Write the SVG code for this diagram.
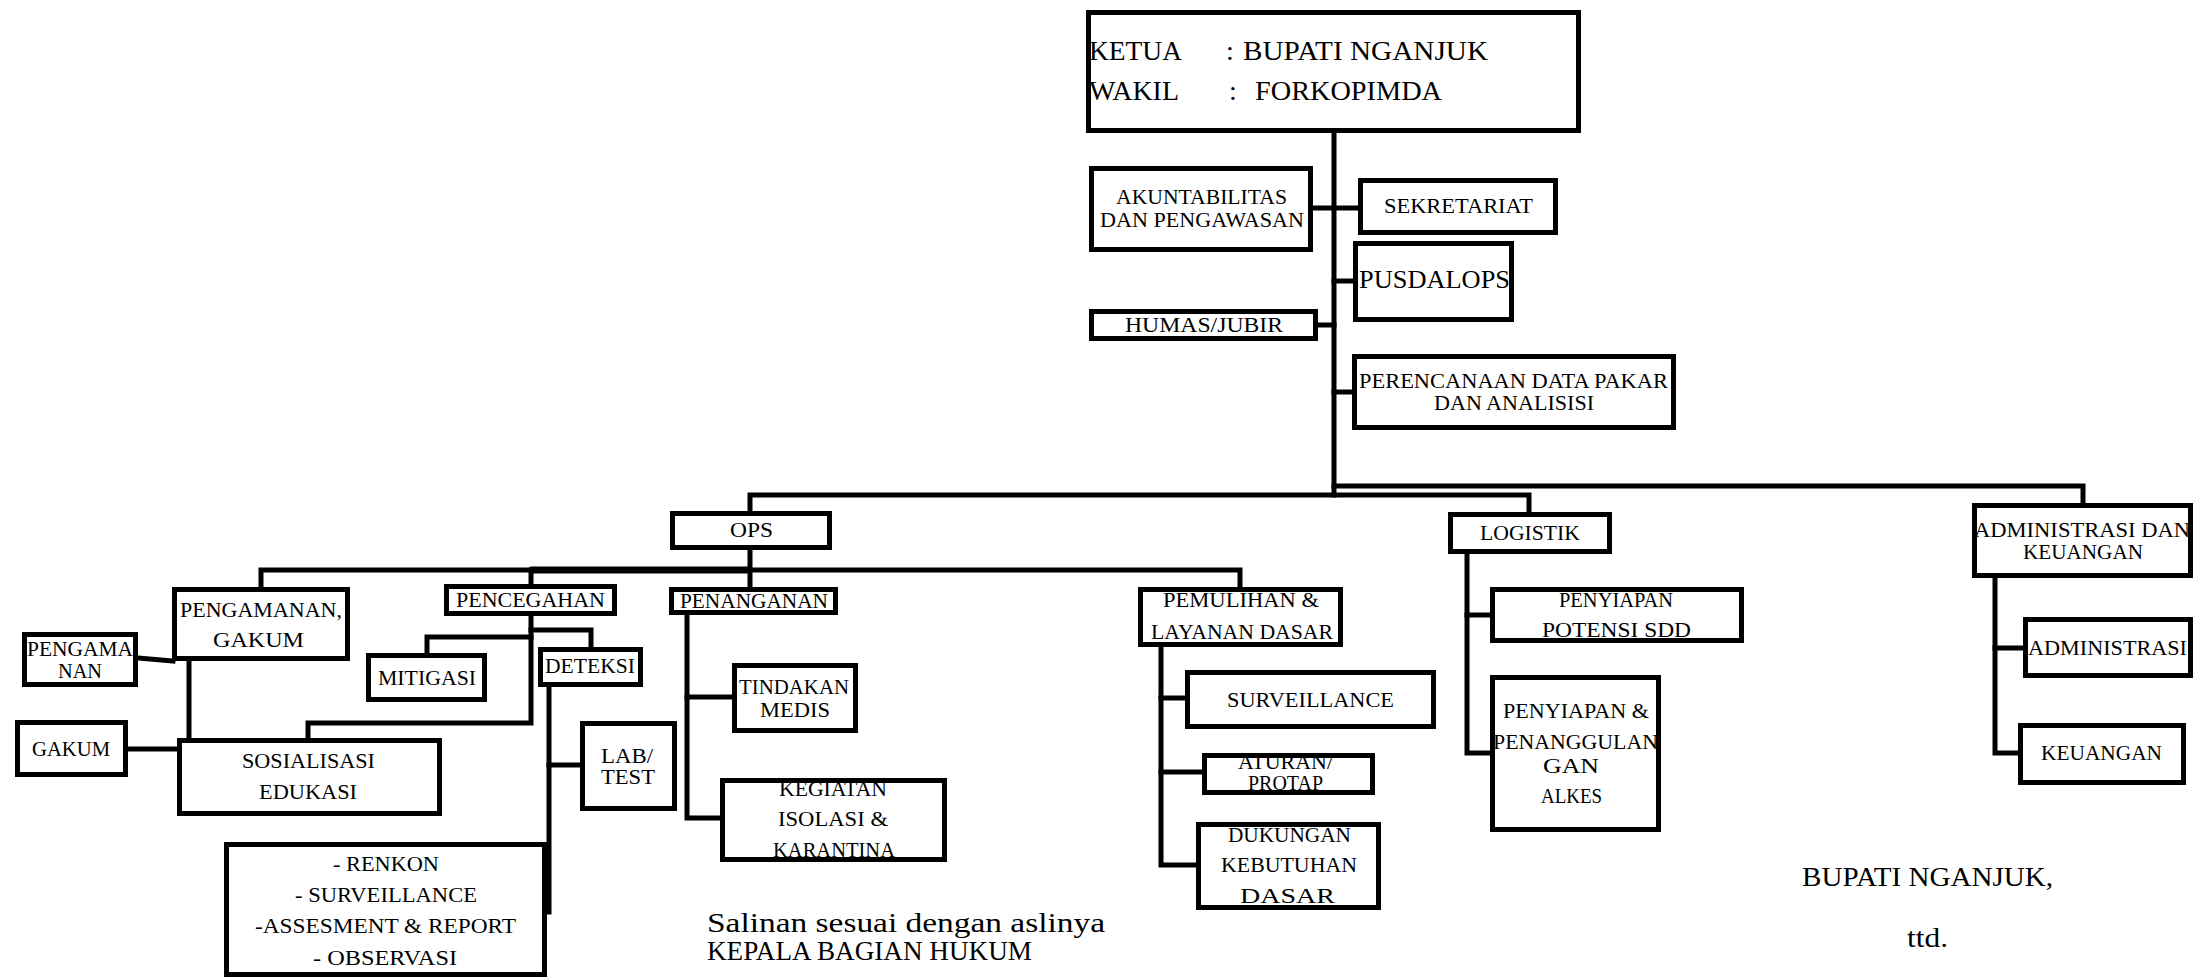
<svg xmlns="http://www.w3.org/2000/svg" width="2203" height="978" viewBox="0 0 2203 978" font-family="Liberation Serif, serif">
<style>
text{font-size:22px;fill:#000}
.b{fill:none;stroke:#000;stroke-width:5}
.c{fill:none;stroke:#000;stroke-width:5;stroke-linecap:square;stroke-linejoin:miter}
</style>
<rect x="0" y="0" width="2203" height="978" fill="#fff"/>
<g id="connectors">
<path class="c" d="M1334 133V495"/>
<path class="c" d="M1313 208H1358"/>
<path class="c" d="M1334 281H1353"/>
<path class="c" d="M1318 325H1334"/>
<path class="c" d="M1334 392H1352"/>
<path class="c" d="M1334 486H2083V503"/>
<path class="c" d="M750 511V495H1529V512"/>
<path class="c" d="M750 550V587"/>
<path class="c" d="M261 587V570H1240V587"/>
<path d="M530 570H750" stroke="#000" stroke-width="7" fill="none"/>
<path class="c" d="M531 570V584"/>
<path class="c" d="M138 658L173 661"/>
<path class="c" d="M189 661V738"/>
<path class="c" d="M128 749H177"/>
<path class="c" d="M531 616V723H308V738"/>
<path class="c" d="M531 637H427V653"/>
<path class="c" d="M531 630H591V647"/>
<path class="c" d="M549 687V912"/>
<path class="c" d="M549 765H580"/>
<path class="c" d="M687 615V818H720"/>
<path class="c" d="M687 697H732"/>
<path class="c" d="M1161 647V865H1196"/>
<path class="c" d="M1161 698H1185"/>
<path class="c" d="M1161 772H1202"/>
<path class="c" d="M1467 554V753H1490"/>
<path class="c" d="M1467 615H1490"/>
<path class="c" d="M1995 578V753H2018"/>
<path class="c" d="M1995 648H2023"/>
</g>
<g id="ketua">
<text style="font-size:28px" x="1089" y="60" textLength="93" lengthAdjust="spacingAndGlyphs">KETUA</text>
<text style="font-size:28px" x="1226" y="60">:</text>
<text style="font-size:28px" x="1243" y="60" textLength="245" lengthAdjust="spacingAndGlyphs">BUPATI NGANJUK</text>
<text style="font-size:28px" x="1089" y="100" textLength="90" lengthAdjust="spacingAndGlyphs">WAKIL</text>
<text style="font-size:28px" x="1229" y="100">:</text>
<text style="font-size:28px" x="1255" y="100" textLength="187" lengthAdjust="spacingAndGlyphs">FORKOPIMDA</text>
<rect class="b" x="1088.5" y="12.5" width="490" height="118"/>
</g>
<g id="akuntabilitas">
<text style="font-size:21px" x="1116" y="204" textLength="171" lengthAdjust="spacingAndGlyphs">AKUNTABILITAS</text>
<text style="font-size:21px" x="1100" y="227" textLength="204" lengthAdjust="spacingAndGlyphs">DAN PENGAWASAN</text>
<rect class="b" x="1091.5" y="168.5" width="219" height="81"/>
</g>
<g id="sekretariat">
<text x="1384" y="213" textLength="149" lengthAdjust="spacingAndGlyphs">SEKRETARIAT</text>
<rect class="b" x="1360.5" y="180.5" width="195" height="52"/>
</g>
<g id="pusdalops">
<text style="font-size:26px" x="1359" y="288" textLength="151" lengthAdjust="spacingAndGlyphs">PUSDALOPS</text>
<rect class="b" x="1355.5" y="243.5" width="156" height="76"/>
</g>
<g id="humas">
<text style="font-size:21px" x="1125" y="332" textLength="158" lengthAdjust="spacingAndGlyphs">HUMAS/JUBIR</text>
<rect class="b" x="1091.5" y="311.5" width="224" height="27"/>
</g>
<g id="perencanaan">
<text style="font-size:21px" x="1359" y="388" textLength="309" lengthAdjust="spacingAndGlyphs">PERENCANAAN DATA PAKAR</text>
<text style="font-size:21px" x="1434" y="410" textLength="160" lengthAdjust="spacingAndGlyphs">DAN ANALISISI</text>
<rect class="b" x="1354.5" y="356.5" width="319" height="71"/>
</g>
<g id="ops">
<text style="font-size:21px" x="730" y="537" textLength="43" lengthAdjust="spacingAndGlyphs">OPS</text>
<rect class="b" x="672.5" y="513.5" width="157" height="34"/>
</g>
<g id="logistik">
<text style="font-size:21px" x="1480" y="540" textLength="100" lengthAdjust="spacingAndGlyphs">LOGISTIK</text>
<rect class="b" x="1450.5" y="514.5" width="159" height="37"/>
</g>
<g id="admin-keuangan">
<text x="1974" y="537" textLength="216" lengthAdjust="spacingAndGlyphs">ADMINISTRASI DAN</text>
<text x="2023" y="559" textLength="120" lengthAdjust="spacingAndGlyphs">KEUANGAN</text>
<rect class="b" x="1974.5" y="505.5" width="216" height="70"/>
</g>
<g id="pengamanan-gakum">
<text x="180" y="617" textLength="162" lengthAdjust="spacingAndGlyphs">PENGAMANAN,</text>
<text x="213" y="647" textLength="91" lengthAdjust="spacingAndGlyphs">GAKUM</text>
<rect class="b" x="174.5" y="589.5" width="173" height="69"/>
</g>
<g id="pencegahan">
<text x="456" y="607" textLength="149" lengthAdjust="spacingAndGlyphs">PENCEGAHAN</text>
<rect class="b" x="446.5" y="586.5" width="168" height="27"/>
</g>
<g id="penanganan">
<text x="680" y="608" textLength="148" lengthAdjust="spacingAndGlyphs">PENANGANAN</text>
<rect class="b" x="671.5" y="589.5" width="164" height="23"/>
</g>
<g id="pemulihan">
<text x="1163" y="607" textLength="156" lengthAdjust="spacingAndGlyphs">PEMULIHAN &amp;</text>
<text x="1151" y="639" textLength="182" lengthAdjust="spacingAndGlyphs">LAYANAN DASAR</text>
<rect class="b" x="1140.5" y="589.5" width="200" height="55"/>
</g>
<g id="pengamanan">
<text x="27" y="656" textLength="106" lengthAdjust="spacingAndGlyphs">PENGAMA</text>
<text x="58" y="678" textLength="44" lengthAdjust="spacingAndGlyphs">NAN</text>
<rect class="b" x="24.5" y="634.5" width="111" height="50"/>
</g>
<g id="gakum">
<text x="32" y="756" textLength="78" lengthAdjust="spacingAndGlyphs">GAKUM</text>
<rect class="b" x="17.5" y="722.5" width="108" height="52"/>
</g>
<g id="sosialisasi">
<text x="242" y="768" textLength="133" lengthAdjust="spacingAndGlyphs">SOSIALISASI</text>
<text x="259" y="799" textLength="98" lengthAdjust="spacingAndGlyphs">EDUKASI</text>
<rect class="b" x="179.5" y="740.5" width="260" height="73"/>
</g>
<g id="mitigasi">
<text x="378" y="685" textLength="98" lengthAdjust="spacingAndGlyphs">MITIGASI</text>
<rect class="b" x="368.5" y="655.5" width="116" height="44"/>
</g>
<g id="deteksi">
<text x="545" y="673" textLength="90" lengthAdjust="spacingAndGlyphs">DETEKSI</text>
<rect class="b" x="540.5" y="649.5" width="100" height="35"/>
</g>
<g id="lab-test">
<text style="font-size:21px" x="601" y="763" textLength="52" lengthAdjust="spacingAndGlyphs">LAB/</text>
<text style="font-size:21px" x="601" y="784" textLength="54" lengthAdjust="spacingAndGlyphs">TEST</text>
<rect class="b" x="582.5" y="723.5" width="92" height="85"/>
</g>
<g id="renkon">
<text x="333" y="871" textLength="106" lengthAdjust="spacingAndGlyphs">- RENKON</text>
<text x="295" y="902" textLength="182" lengthAdjust="spacingAndGlyphs">- SURVEILLANCE</text>
<text x="255" y="933" textLength="261" lengthAdjust="spacingAndGlyphs">-ASSESMENT &amp; REPORT</text>
<text x="313" y="965" textLength="144" lengthAdjust="spacingAndGlyphs">- OBSERVASI</text>
<rect class="b" x="226.5" y="844.5" width="318" height="130"/>
</g>
<g id="tindakan-medis">
<text x="739" y="694" textLength="110" lengthAdjust="spacingAndGlyphs">TINDAKAN</text>
<text x="760" y="717" textLength="70" lengthAdjust="spacingAndGlyphs">MEDIS</text>
<rect class="b" x="734.5" y="665.5" width="121" height="65"/>
</g>
<g id="kegiatan">
<text x="779" y="796" textLength="108" lengthAdjust="spacingAndGlyphs">KEGIATAN</text>
<text x="778" y="826" textLength="110" lengthAdjust="spacingAndGlyphs">ISOLASI &amp;</text>
<text x="773" y="857" textLength="122" lengthAdjust="spacingAndGlyphs">KARANTINA</text>
<rect class="b" x="722.5" y="780.5" width="222" height="79"/>
</g>
<g id="surveillance">
<text x="1227" y="707" textLength="167" lengthAdjust="spacingAndGlyphs">SURVEILLANCE</text>
<rect class="b" x="1187.5" y="672.5" width="246" height="54"/>
</g>
<g id="aturan-protap">
<text style="font-size:21px" x="1238" y="769" textLength="95" lengthAdjust="spacingAndGlyphs">ATURAN/</text>
<text style="font-size:21px" x="1248" y="790" textLength="75" lengthAdjust="spacingAndGlyphs">PROTAP</text>
<rect class="b" x="1204.5" y="755.5" width="168" height="37"/>
</g>
<g id="dukungan">
<text x="1228" y="842" textLength="123" lengthAdjust="spacingAndGlyphs">DUKUNGAN</text>
<text x="1221" y="872" textLength="136" lengthAdjust="spacingAndGlyphs">KEBUTUHAN</text>
<text x="1240" y="903" textLength="95" lengthAdjust="spacingAndGlyphs">DASAR</text>
<rect class="b" x="1198.5" y="824.5" width="180" height="83"/>
</g>
<g id="penyiapan-potensi">
<text x="1559" y="607" textLength="114" lengthAdjust="spacingAndGlyphs">PENYIAPAN</text>
<text x="1542" y="637" textLength="149" lengthAdjust="spacingAndGlyphs">POTENSI SDD</text>
<rect class="b" x="1492.5" y="589.5" width="249" height="51"/>
</g>
<g id="penyiapan-alkes">
<text x="1503" y="718" textLength="146" lengthAdjust="spacingAndGlyphs">PENYIAPAN &amp;</text>
<text x="1493" y="749" textLength="165" lengthAdjust="spacingAndGlyphs">PENANGGULAN</text>
<text x="1543" y="773" textLength="56" lengthAdjust="spacingAndGlyphs">GAN</text>
<text x="1541" y="803" textLength="61" lengthAdjust="spacingAndGlyphs">ALKES</text>
<rect class="b" x="1492.5" y="677.5" width="166" height="152"/>
</g>
<g id="administrasi">
<text x="2028" y="655" textLength="159" lengthAdjust="spacingAndGlyphs">ADMINISTRASI</text>
<rect class="b" x="2025.5" y="619.5" width="165" height="56"/>
</g>
<g id="keuangan">
<text x="2041" y="760" textLength="121" lengthAdjust="spacingAndGlyphs">KEUANGAN</text>
<rect class="b" x="2020.5" y="725.5" width="163" height="57"/>
</g>
<g id="signatures">
<text style="font-size:28px" x="707" y="932" textLength="398" lengthAdjust="spacingAndGlyphs">Salinan sesuai dengan aslinya</text>
<text style="font-size:28px" x="707" y="960" textLength="325" lengthAdjust="spacingAndGlyphs">KEPALA BAGIAN HUKUM</text>
<text style="font-size:27px" x="1802" y="886" textLength="251" lengthAdjust="spacingAndGlyphs">BUPATI NGANJUK,</text>
<text style="font-size:27px" x="1907" y="947" textLength="41" lengthAdjust="spacingAndGlyphs">ttd.</text>
</g>
</svg>
